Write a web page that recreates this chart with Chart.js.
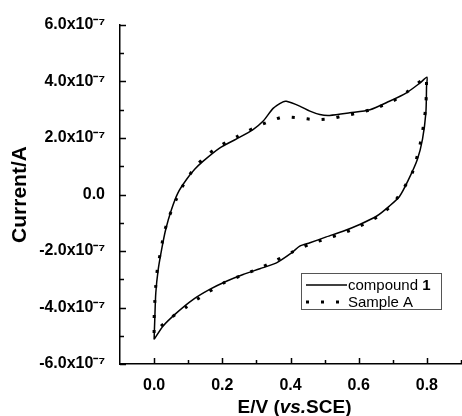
<!DOCTYPE html>
<html>
<head>
<meta charset="utf-8">
<script src="https://cdn.jsdelivr.net/npm/chart.js@4"></script>
<style>
  html, body { margin: 0; padding: 0; background: #fff; }
  #wrap { position: relative; width: 462px; height: 416px; }
</style>
</head>
<body>
<div id="wrap"><canvas id="cv"></canvas></div>
<script>
// current values are in units of 1e-7 A
const compoundE = [0.000, 0.002, 0.005, 0.012, 0.022, 0.034, 0.051, 0.070, 0.095, 0.119, 0.144, 0.193, 0.242, 0.290, 0.320, 0.349, 0.378, 0.388, 0.427, 0.457, 0.486, 0.515, 0.574, 0.633, 0.690, 0.740, 0.780, 0.800,
                   0.799, 0.797, 0.787, 0.772, 0.745, 0.720, 0.690, 0.652, 0.603, 0.554, 0.505, 0.457, 0.427, 0.403, 0.359, 0.310, 0.261, 0.212, 0.163, 0.114, 0.066, 0.026, 0.000];
const compoundI = [-5.13, -4.42, -3.48, -2.66, -1.95, -1.24, -0.53, 0.06, 0.53, 0.89, 1.18, 1.65, 1.97, 2.30, 2.60, 3.05, 3.28, 3.30, 3.13, 2.95, 2.83, 2.80, 2.89, 3.00, 3.30, 3.60, 3.95, 4.15,
                   3.83, 2.90, 1.95, 1.24, 0.50, -0.06, -0.41, -0.77, -1.06, -1.30, -1.50, -1.71, -1.83, -2.07, -2.42, -2.63, -2.83, -3.07, -3.36, -3.72, -4.19, -4.66, -5.13];

const sampleE = [0.000, 0.000, 0.002, 0.005, 0.010, 0.020, 0.029, 0.044, 0.064, 0.088, 0.121, 0.158, 0.200, 0.245, 0.290, 0.336, 0.378, 0.427, 0.471, 0.515, 0.562, 0.601, 0.652, 0.699, 0.745, 0.787, 0.798,
                 0.797, 0.792, 0.784, 0.772, 0.758, 0.733, 0.699, 0.654, 0.603, 0.552, 0.503, 0.455, 0.405, 0.356, 0.307, 0.258, 0.209, 0.161, 0.114, 0.095, 0.051, 0.009, 0.000];
const sampleI = [-4.90, -4.42, -3.81, -3.22, -2.60, -1.97, -1.38, -0.79, -0.20, 0.39, 0.98, 1.42, 1.77, 2.06, 2.34, 2.58, 2.74, 2.71, 2.65, 2.68, 2.80, 2.89, 3.07, 3.30, 3.66, 4.07, 4.15,
                 3.19, 2.63, 2.00, 1.38, 0.79, 0.24, -0.35, -0.80, -1.12, -1.38, -1.57, -1.77, -2.04, -2.34, -2.62, -2.86, -3.10, -3.44, -3.81, -3.98, -4.35, -4.78, -4.90];

const seriesNames = ["compound ", "Sample A"];
const seriesBold  = ["1", ""];

const xTicks = [0.0, 0.2, 0.4, 0.6, 0.8];
const xTickLabels = ["0.0", "0.2", "0.4", "0.6", "0.8"];
const yTicks = [-6, -4, -2, 0, 2, 4, 6];
const yTickLabels = ["-6.0x10\u207B\u2077", "-4.0x10\u207B\u2077", "-2.0x10\u207B\u2077", "0.0",
                     "2.0x10\u207B\u2077", "4.0x10\u207B\u2077", "6.0x10\u207B\u2077"];

const FONT = "'Liberation Sans', Arial, Helvetica, sans-serif";

const toPoints = (xs, ys) => xs.map((x, i) => ({ x: x, y: ys[i] }));

// ticks pointing into the plot, major + minor
const inwardTicks = {
    id: "inwardTicks",
    afterDraw(chart) {
        const { ctx, chartArea: a, scales: { x, y } } = chart;
        ctx.save();
        ctx.strokeStyle = "#000";
        ctx.lineWidth = 1.5;
        ctx.beginPath();
        xTicks.forEach(v => {
            let p = Math.round(x.getPixelForValue(v)) + 0.5;
            ctx.moveTo(p, a.bottom); ctx.lineTo(p, a.bottom - 6);
            p = Math.round(x.getPixelForValue(v + 0.1)) + 0.5;
            ctx.moveTo(p, a.bottom); ctx.lineTo(p, a.bottom - 4);
        });
        yTicks.forEach((v, i) => {
            let p = Math.round(y.getPixelForValue(v)) + 0.5;
            ctx.moveTo(a.left, p); ctx.lineTo(a.left + 6, p);
            if (i < yTicks.length - 1) {
                p = Math.round(y.getPixelForValue(v + 1)) + 0.5;
                ctx.moveTo(a.left, p); ctx.lineTo(a.left + 4, p);
            }
        });
        ctx.stroke();

        // x axis title with italic "vs."
        const parts = [["E/V (", "bold 19px " + FONT], ["vs.", "italic bold 19px " + FONT], ["SCE)", "bold 19px " + FONT]];
        let w = 0;
        parts.forEach(p => { ctx.font = p[1]; w += ctx.measureText(p[0]).width; });
        let cx = (a.left + a.right) / 2 + 4 - w / 2;
        ctx.fillStyle = "#000";
        ctx.textBaseline = "alphabetic";
        parts.forEach(p => { ctx.font = p[1]; ctx.fillText(p[0], cx, 413); cx += ctx.measureText(p[0]).width; });
        ctx.restore();
    }
};

// boxed legend, lower right
const boxLegend = {
    id: "boxLegend",
    afterDraw(chart) {
        const { ctx, chartArea: a } = chart;
        const bx = a.right - 160, by = a.top + 248, bw = 140, bh = 36;
        ctx.save();
        ctx.fillStyle = "#fff";
        ctx.fillRect(bx, by, bw, bh);
        ctx.strokeStyle = "#555";
        ctx.lineWidth = 1;
        ctx.strokeRect(bx + 0.5, by + 0.5, bw, bh);
        chart.data.datasets.forEach((ds, i) => {
            const ly = by + 12 + i * 17;
            ctx.strokeStyle = ds.borderColor;
            ctx.lineWidth = ds.borderWidth;
            ctx.setLineDash(ds.borderDash || []);
            ctx.beginPath();
            ctx.moveTo(bx + 5, ly); ctx.lineTo(bx + 46, ly);
            ctx.stroke();
            ctx.setLineDash([]);
            ctx.fillStyle = "#000";
            ctx.textBaseline = "middle";
            ctx.font = "15px " + FONT;
            ctx.fillText(seriesNames[i], bx + 47, ly + 1);
            if (seriesBold[i]) {
                const tw = ctx.measureText(seriesNames[i]).width;
                ctx.font = "bold 15px " + FONT;
                ctx.fillText(seriesBold[i], bx + 47 + tw, ly + 1);
            }
        });
        ctx.restore();
    }
};

new Chart(document.getElementById("cv"), {
    type: "scatter",
    data: {
        datasets: [
            {
                label: "compound 1",
                data: toPoints(compoundE, compoundI),
                showLine: true,
                borderColor: "#000",
                borderWidth: 1.5,
                pointRadius: 0,
                tension: 0.25,
                borderJoinStyle: "round"
            },
            {
                label: "Sample A",
                data: toPoints(sampleE, sampleI),
                showLine: true,
                borderColor: "#000",
                borderWidth: 3,
                borderDash: [3, 12],
                pointRadius: 0,
                tension: 0.25
            }
        ]
    },
    options: {
        responsive: true,
        maintainAspectRatio: false,
        animation: false,
        layout: { padding: { top: 25, right: 1, left: 0, bottom: 0 } },
        plugins: { legend: { display: false }, tooltip: { enabled: false } },
        scales: {
            x: {
                type: "linear",
                min: -0.1,
                max: 0.9,
                afterBuildTicks: s => { s.ticks = xTicks.map(v => ({ value: v })); },
                afterFit: s => { s.height = 52; },
                grid: { display: false },
                border: { display: true, color: "#000", width: 1.5 },
                ticks: {
                    padding: 4,
                    color: "#000",
                    font: { family: FONT, size: 16, weight: "bold" },
                    callback: (v, i) => xTickLabels[i]
                }
            },
            y: {
                type: "linear",
                min: -6,
                max: 6,
                afterBuildTicks: s => { s.ticks = yTicks.map(v => ({ value: v })); },
                afterFit: s => { s.width = 120; },
                grid: { display: false },
                border: { display: true, color: "#000", width: 1.5 },
                ticks: {
                    padding: 7,
                    color: "#000",
                    font: { family: FONT, size: 16, weight: "bold" },
                    callback: (v, i) => yTickLabels[i]
                },
                title: {
                    display: true,
                    text: "Current/A",
                    color: "#000",
                    padding: { top: 8, bottom: 0 },
                    font: { family: FONT, size: 21, weight: "bold" }
                }
            }
        }
    },
    plugins: [inwardTicks, boxLegend]
});
</script>
</body>
</html>
